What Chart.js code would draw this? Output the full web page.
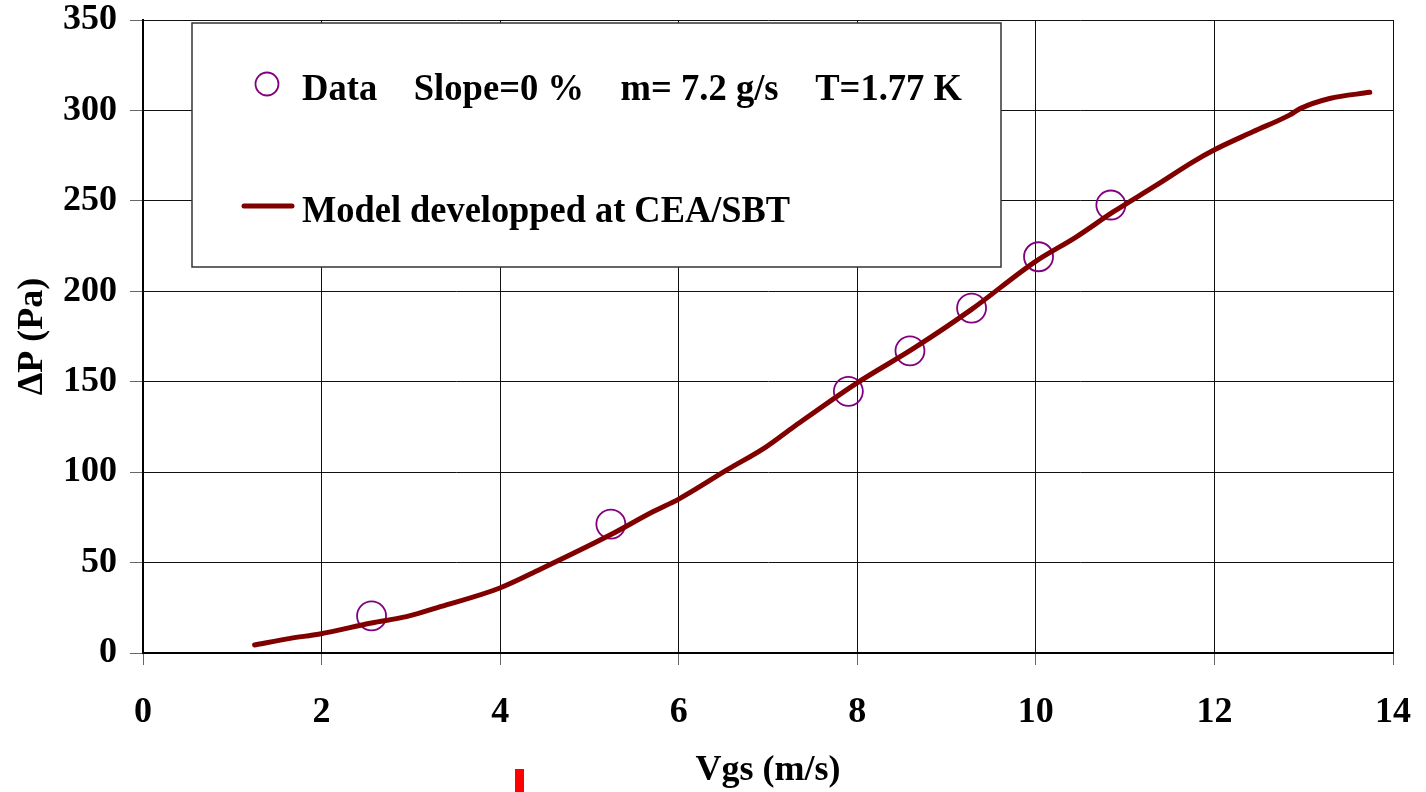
<!DOCTYPE html>
<html><head><meta charset="utf-8">
<script src="https://cdn.jsdelivr.net/npm/chart.js"></script>
<style>html,body{margin:0;padding:0;background:#fff;overflow:hidden}#wrap{width:1426px;height:792px;position:relative}</style>
</head><body><div id="wrap"><canvas id="c"></canvas></div>
<script>
// ---- data ----
const dataX = [2.56, 5.24, 7.90, 8.59, 9.28, 10.03, 10.84];
const dataY = [20.5, 71.3, 144.7, 167.1, 190.7, 219.1, 247.7];
const modelX = [1.25, 1.65, 1.98, 2.56, 2.95, 3.33, 3.99, 4.45, 5.23, 5.71, 6.00, 6.54, 6.98, 7.29, 7.99, 8.63, 9.28, 9.99, 10.45, 10.87, 11.35, 11.76, 11.99, 12.43, 12.84, 12.96, 13.29, 13.74];
const modelY = [4.4, 8.1, 10.5, 16.6, 20.1, 25.6, 35.8, 46.3, 65.2, 78.1, 85.1, 101.2, 114.0, 125.1, 149.1, 168.4, 190.0, 216.3, 230.0, 244.0, 258.7, 271.6, 278.0, 288.2, 297.4, 301.0, 306.6, 310.0];
const xTickValues = [0, 2, 4, 6, 8, 10, 12, 14];
const yTickValues = [0, 50, 100, 150, 200, 250, 300, 350];
const legendLabels = ["Data    Slope=0 %    m= 7.2 g/s    T=1.77 K", "Model developped at CEA/SBT"];
const xTitle = "Vgs (m/s)";
const yTitle = "\u0394P (Pa)";

const FAM = '"Liberation Serif", "Times New Roman", serif';
const PURPLE = '#800080', DARKRED = '#800000';

function drawFit(ctx, text, x, y, targetW) {
  const w = ctx.measureText(text).width;
  ctx.save();
  ctx.translate(x, y);
  ctx.scale(targetW / w, 1);
  ctx.fillText(text, 0, 0);
  ctx.restore();
}

const legendBox = {
  id: 'legendBox',
  afterDraw(chart) {
    const {ctx, chartArea: ca} = chart;
    const x0 = ca.left + 49, y0 = ca.top + 3, w = 809, h = 244;
    ctx.save();
    ctx.fillStyle = '#fff';
    ctx.fillRect(x0, y0, w, h);
    ctx.strokeStyle = '#333';
    ctx.lineWidth = 1.5;
    ctx.strokeRect(x0, y0, w, h);
    ctx.fillStyle = '#000';
    ctx.font = 'bold 37px ' + FAM;
    ctx.textBaseline = 'alphabetic';
    ctx.textAlign = 'left';
    // item 1
    ctx.beginPath();
    ctx.arc(x0 + 75, y0 + 61, 11.5, 0, Math.PI * 2);
    ctx.strokeStyle = PURPLE; ctx.lineWidth = 1.8; ctx.stroke();
    drawFit(ctx, legendLabels[0], x0 + 110, y0 + 77, 660);
    // item 2
    ctx.beginPath();
    ctx.moveTo(x0 + 52, y0 + 183); ctx.lineTo(x0 + 100, y0 + 183);
    ctx.strokeStyle = DARKRED; ctx.lineWidth = 5; ctx.lineCap = 'round'; ctx.stroke();
    drawFit(ctx, legendLabels[1], x0 + 110, y0 + 199, 488);
    // small red mark at the bottom
    ctx.fillStyle = '#ff0000';
    ctx.fillRect(515, 769, 9, 23);
    ctx.restore();
  }
};

const tickFont = {family: FAM, size: 36, weight: 'bold', lineHeight: 1};

new Chart(document.getElementById('c'), {
  type: 'scatter',
  data: {
    datasets: [
      {
        label: legendLabels[0],
        data: dataX.map((x, i) => ({x, y: dataY[i]})),
        pointStyle: 'circle',
        pointRadius: 14.5,
        pointHoverRadius: 14.5,
        borderColor: PURPLE,
        backgroundColor: 'rgba(0,0,0,0)',
        pointBorderWidth: 1.8,
        order: 2
      },
      {
        label: legendLabels[1],
        type: 'line',
        data: modelX.map((x, i) => ({x, y: modelY[i]})),
        showLine: true,
        borderColor: DARKRED,
        borderWidth: 5,
        pointRadius: 0,
        cubicInterpolationMode: 'monotone',
        borderCapStyle: 'round',
        borderJoinStyle: 'round',
        fill: false,
        order: 1
      }
    ]
  },
  options: {
    responsive: true,
    maintainAspectRatio: false,
    animation: false,
    devicePixelRatio: 1,
    layout: {padding: {left: 0, top: 20, right: 33, bottom: 0}},
    plugins: {legend: {display: false}, tooltip: {enabled: false}},
    scales: {
      x: {
        type: 'linear', min: 0, max: 14,
        afterBuildTicks: s => { s.ticks = xTickValues.map(v => ({value: v})); },
        afterFit: s => { s.height = 139; s.paddingLeft = 0; s.paddingRight = 0; },
        grid: {color: '#111', lineWidth: 1, tickLength: 12, tickColor: '#666'},
        border: {color: '#000', width: 2},
        ticks: {font: tickFont, color: '#000', padding: 30, maxRotation: 0},
        title: {display: true, text: xTitle, color: '#000', font: {family: FAM, size: 36, weight: 'bold'}, padding: {top: 0, bottom: 0}}
      },
      y: {
        type: 'linear', min: 0, max: 350,
        afterBuildTicks: s => { s.ticks = yTickValues.map(v => ({value: v})); },
        afterFit: s => { s.width = 143; s.paddingTop = 0; s.paddingBottom = 0; },
        grid: {color: '#111', lineWidth: 1, tickLength: 13, tickColor: '#666'},
        border: {color: '#000', width: 2},
        ticks: {font: tickFont, color: '#000', padding: 13},
        title: {display: true, text: yTitle, color: '#000', font: {family: FAM, size: 36, weight: 'bold'}, padding: {top: 11, bottom: 0}}
      }
    }
  },
  plugins: [legendBox]
});
</script>
</body></html>
